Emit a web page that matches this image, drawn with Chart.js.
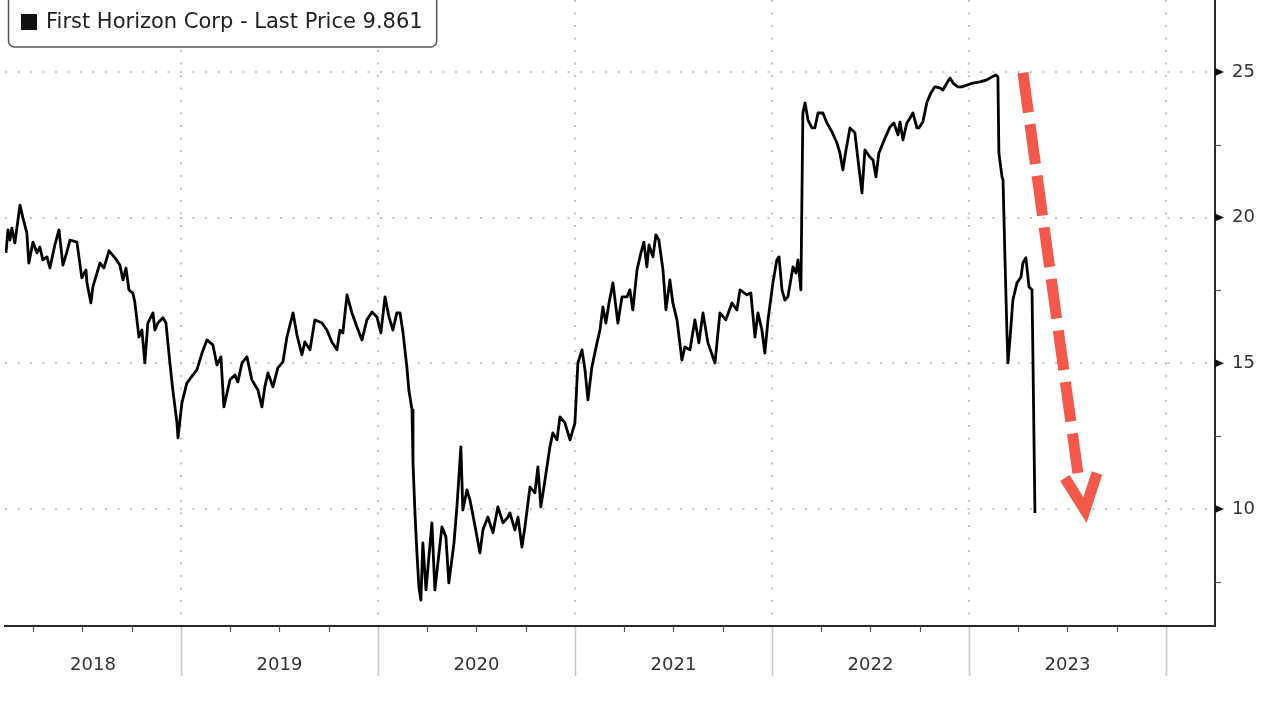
<!DOCTYPE html>
<html>
<head>
<meta charset="utf-8">
<script src="https://cdn.jsdelivr.net/npm/chart.js@4.4.1/dist/chart.umd.min.js"></script>
<style>
html,body{margin:0;padding:0;background:#fff;overflow:hidden}
#wrap{width:1280px;height:711px;position:relative}
</style>
</head>
<body>
<div id="wrap"><canvas id="c" width="1280" height="711"></canvas></div>
<script>
// ---- data (decimal year, price) ----
const seriesName = 'First Horizon Corp - Last Price';

const dates2018 = [2018.112,2018.122,2018.132,2018.142,2018.157,2018.183,2018.198,2018.218,2018.228,2018.249,2018.269,2018.284,2018.299,2018.320,2018.335,2018.360,2018.381,2018.401,2018.421,2018.437,2018.472,2018.497,2018.518,2018.523,2018.543,2018.553,2018.589,2018.609,2018.635,2018.665,2018.690,2018.706,2018.721,2018.736,2018.756,2018.766,2018.787,2018.802,2018.817,2018.832,2018.858,2018.868,2018.883,2018.909,2018.924,2018.944,2018.959,2018.980,2018.985];
const prices2018 = [18.79,19.58,19.23,19.64,19.13,20.43,19.99,19.47,18.44,19.16,18.79,18.99,18.55,18.65,18.27,19.06,19.58,18.37,18.82,19.23,19.16,17.93,18.20,17.76,17.07,17.62,18.44,18.27,18.86,18.62,18.37,17.86,18.27,17.52,17.41,17.10,15.90,16.14,15.01,16.38,16.73,16.14,16.38,16.56,16.38,15.01,14.08,12.95,12.44];

const dates2019 = [2019.005,2019.030,2019.061,2019.081,2019.107,2019.132,2019.162,2019.183,2019.203,2019.218,2019.249,2019.274,2019.289,2019.310,2019.335,2019.360,2019.391,2019.411,2019.426,2019.442,2019.467,2019.492,2019.518,2019.538,2019.569,2019.589,2019.614,2019.629,2019.655,2019.680,2019.716,2019.741,2019.766,2019.792,2019.807,2019.822,2019.843,2019.868,2019.893,2019.919,2019.944,2019.970,2019.995];
const prices2019 = [13.64,14.32,14.60,14.77,15.35,15.80,15.63,14.94,15.22,13.50,14.43,14.60,14.36,15.01,15.22,14.43,14.08,13.50,14.19,14.67,14.19,14.84,15.05,15.90,16.73,15.97,15.29,15.73,15.46,16.49,16.38,16.14,15.73,15.46,16.14,16.04,17.35,16.73,16.25,15.80,16.49,16.76,16.59];

const dates2020 = [2020.015,2020.036,2020.056,2020.076,2020.096,2020.112,2020.127,2020.147,2020.157,2020.173,2020.178,2020.188,2020.198,2020.208,2020.218,2020.228,2020.244,2020.274,2020.289,2020.325,2020.345,2020.360,2020.386,2020.401,2020.421,2020.431,2020.452,2020.467,2020.487,2020.518,2020.533,2020.558,2020.584,2020.609,2020.635,2020.660,2020.670,2020.695,2020.711,2020.731,2020.746,2020.772,2020.797,2020.812,2020.827,2020.848,2020.873,2020.888,2020.909,2020.924,2020.949,2020.975];
const prices2020 = [16.04,17.28,16.59,16.14,16.73,16.73,16.07,14.87,14.08,13.40,11.58,9.86,8.49,7.32,6.87,8.83,7.22,9.52,7.22,9.38,9.04,7.46,8.83,10.07,12.13,9.96,10.65,10.31,9.62,8.49,9.28,9.72,9.18,10.07,9.52,9.72,9.86,9.28,9.72,8.69,9.38,10.75,10.55,11.44,10.07,10.99,12.13,12.61,12.37,13.16,12.95,12.37];

const dates2021 = [2021.000,2021.015,2021.036,2021.051,2021.066,2021.086,2021.112,2021.127,2021.142,2021.157,2021.173,2021.193,2021.218,2021.239,2021.264,2021.279,2021.294,2021.315,2021.335,2021.350,2021.365,2021.376,2021.396,2021.411,2021.426,2021.447,2021.462,2021.482,2021.497,2021.518,2021.543,2021.558,2021.584,2021.609,2021.629,2021.650,2021.675,2021.711,2021.736,2021.766,2021.797,2021.822,2021.838,2021.873,2021.893,2021.914,2021.929,2021.949,2021.964,2021.980];
const prices2021 = [12.95,15.01,15.46,14.77,13.74,14.87,15.70,16.14,16.93,16.38,17.07,17.76,16.38,17.28,17.28,17.52,16.83,18.20,18.79,19.16,18.31,19.06,18.65,19.41,19.23,18.20,16.83,17.86,17.07,16.49,15.11,15.56,15.46,16.49,15.70,16.73,15.70,15.01,16.73,16.49,17.07,16.83,17.52,17.35,17.41,15.90,16.73,16.14,15.35,16.49];

const dates2022 = [2022.005,2022.025,2022.036,2022.051,2022.066,2022.081,2022.107,2022.122,2022.132,2022.147,2022.157,2022.168,2022.183,2022.203,2022.218,2022.234,2022.259,2022.279,2022.305,2022.330,2022.345,2022.360,2022.376,2022.396,2022.421,2022.437,2022.457,2022.472,2022.497,2022.513,2022.528,2022.543,2022.574,2022.599,2022.619,2022.640,2022.650,2022.665,2022.685,2022.701,2022.716,2022.736,2022.746,2022.766,2022.787,2022.807,2022.827,2022.853,2022.868,2022.888,2022.904,2022.919,2022.944,2022.964,2022.990];
const prices2022 = [17.76,18.55,18.65,17.52,17.17,17.28,18.31,18.10,18.55,17.52,23.59,23.94,23.35,23.08,23.08,23.59,23.59,23.25,22.94,22.56,22.22,21.64,22.32,23.08,22.91,21.98,20.85,22.32,22.08,21.98,21.40,22.22,22.73,23.11,23.25,22.84,23.28,22.67,23.25,23.42,23.59,23.08,23.08,23.28,23.97,24.28,24.49,24.45,24.38,24.62,24.79,24.62,24.49,24.49,24.55];

const dates2023 = [2023.020,2023.056,2023.091,2023.117,2023.137,2023.147,2023.152,2023.168,2023.173,2023.183,2023.193,2023.198,2023.208,2023.223,2023.244,2023.264,2023.274,2023.289,2023.305,2023.320,2023.325,2023.335];
const prices2023 = [24.62,24.66,24.73,24.83,24.90,24.83,22.22,21.40,21.29,18.55,16.04,15.01,15.80,17.17,17.76,17.96,18.44,18.62,17.62,17.52,15.11,9.861];

// axis labels / ticks
const yearLabels = ['2018','2019','2020','2021','2022','2023'];
const yTickValues = [10, 15, 20, 25];
const yMinorValues = [7.5, 12.5, 17.5, 22.5];
const xRange = [2018.107, 2024.249];
const yRange = [5.98, 27.47];

// annotation arrow (data units: [year, price])
const arrowStart = [2023.274, 24.97];
const arrowShaftEnd = [2023.553, 11.23];
const arrowTip = [2023.589, 9.96];
const arrowArmLeft = [2023.487, 11.06];
const arrowArmRight = [2023.650, 11.23];

// ---- build ----
const allDates = [].concat(dates2018, dates2019, dates2020, dates2021, dates2022, dates2023);
const allPrices = [].concat(prices2018, prices2019, prices2020, prices2021, prices2022, prices2023);
const points = allDates.map((d, i) => ({x: d, y: allPrices[i]}));
const lastPrice = allPrices[allPrices.length - 1];

const inRange = v => v >= xRange[0] && v <= xRange[1];
const isYear = v => Math.abs(v - Math.round(v)) < 1e-6;
const xGridValues = [];     // year boundaries
const xQuarterValues = [];  // quarterly minor ticks
const xLabelValues = [];    // label positions: centre of the visible part of each year
const xLabelMap = {};
yearLabels.forEach(lbl => {
  const y = Number(lbl);
  if (inRange(y)) xGridValues.push(y);
  [0.25, 0.5, 0.75].forEach(q => { if (inRange(y + q)) xQuarterValues.push(y + q); });
  const mid = (Math.max(y, xRange[0]) + Math.min(y + 1, xRange[1])) / 2;
  xLabelValues.push(mid);
  xLabelMap[mid.toFixed(4)] = lbl;
});
const endYear = Number(yearLabels[yearLabels.length - 1]) + 1;
if (inRange(endYear)) xGridValues.push(endYear);
const xTickValues = xGridValues.concat(xLabelValues).sort((a, b) => a - b);

const FONT = 'DejaVu Sans';
const GRID = '#c4c4c4';

const decor = {
  id: 'decor',
  afterDatasetsDraw(chart) {
    const {ctx, scales: {x: xs, y: ys}} = chart;
    const P = p => [xs.getPixelForValue(p[0]), ys.getPixelForValue(p[1])];
    const s = P(arrowStart), e = P(arrowShaftEnd), t = P(arrowTip), l = P(arrowArmLeft), r = P(arrowArmRight);
    ctx.save();
    ctx.strokeStyle = '#f4584a';
    ctx.lineWidth = 11;
    ctx.lineCap = 'butt';
    ctx.setLineDash([40, 12]);
    ctx.beginPath(); ctx.moveTo(s[0], s[1]); ctx.lineTo(e[0], e[1]); ctx.stroke();
    ctx.setLineDash([]);
    ctx.lineJoin = 'miter';
    ctx.beginPath(); ctx.moveTo(l[0], l[1]); ctx.lineTo(t[0], t[1]); ctx.lineTo(r[0], r[1]); ctx.stroke();
    ctx.restore();
  },
  afterDraw(chart) {
    const {ctx, chartArea: a, scales: {x: xs, y: ys}} = chart;
    ctx.save();
    // x axis: year separators
    ctx.strokeStyle = '#c8c8c8'; ctx.lineWidth = 1.6;
    xGridValues.forEach(v => {
      const px = Math.round(xs.getPixelForValue(v)) + 0.5;
      ctx.beginPath(); ctx.moveTo(px, a.bottom + 1); ctx.lineTo(px, a.bottom + 50); ctx.stroke();
    });
    // x axis: quarterly ticks
    ctx.strokeStyle = '#555'; ctx.lineWidth = 1.2;
    xQuarterValues.forEach(v => {
      const px = Math.round(xs.getPixelForValue(v)) + 0.5;
      ctx.beginPath(); ctx.moveTo(px, a.bottom); ctx.lineTo(px, a.bottom + 6); ctx.stroke();
    });
    // y axis: major triangles, minor ticks
    ctx.fillStyle = '#111';
    yTickValues.forEach(v => {
      const py = ys.getPixelForValue(v);
      ctx.beginPath();
      ctx.moveTo(a.right, py - 4); ctx.lineTo(a.right + 9, py); ctx.lineTo(a.right, py + 4);
      ctx.closePath(); ctx.fill();
    });
    ctx.strokeStyle = '#555'; ctx.lineWidth = 1.2;
    yMinorValues.forEach(v => {
      const py = Math.round(ys.getPixelForValue(v)) + 0.5;
      ctx.beginPath(); ctx.moveTo(a.right, py); ctx.lineTo(a.right + 6, py); ctx.stroke();
    });
    // legend box
    const label = seriesName + ' ' + lastPrice.toFixed(3);
    ctx.font = '21px "' + FONT + '"';
    const tw = ctx.measureText(label).width;
    const bx = 8.5, by = -10, bw = 46 + tw + 14 - 8.5, bh = 57;
    ctx.beginPath();
    ctx.roundRect(bx, by, bw, bh, 6);
    ctx.fillStyle = '#fff'; ctx.fill();
    ctx.strokeStyle = '#555'; ctx.lineWidth = 1.5; ctx.stroke();
    ctx.fillStyle = '#111';
    ctx.fillRect(21, 14, 16, 16);
    ctx.fillStyle = '#222';
    ctx.textBaseline = 'middle';
    ctx.textAlign = 'left';
    ctx.fillText(label, 46, 22.5);
    ctx.restore();
  }
};

new Chart(document.getElementById('c').getContext('2d'), {
  type: 'line',
  data: {
    datasets: [{
      label: seriesName,
      data: points,
      borderColor: '#000',
      borderWidth: 2.8,
      pointRadius: 0,
      tension: 0,
      fill: false,
      borderJoinStyle: 'round'
    }]
  },
  options: {
    responsive: false,
    animation: false,
    devicePixelRatio: 1,
    layout: {padding: {left: 5, top: 0, right: 0, bottom: 0}},
    plugins: {legend: {display: false}, tooltip: {enabled: false}},
    scales: {
      x: {
        type: 'linear', position: 'bottom', min: xRange[0], max: xRange[1],
        afterBuildTicks: s => { s.ticks = xTickValues.map(v => ({value: v})); },
        afterFit: s => { s.height = 85; s.paddingLeft = 0; s.paddingRight = 0; },
        grid: {
          drawTicks: false,
          color: c => (c.tick && isYear(c.tick.value)) ? GRID : 'rgba(0,0,0,0)',
          lineWidth: c => (c.tick && isYear(c.tick.value)) ? 2 : 0
        },
        border: {display: true, color: '#2a2a2a', width: 2, dash: [2, 10.5]},
        ticks: {
          autoSkip: false, maxRotation: 0, minRotation: 0, padding: 29,
          color: '#333', font: {family: FONT, size: 18},
          callback: v => xLabelMap[Number(v).toFixed(4)] || ''
        }
      },
      y: {
        type: 'linear', position: 'right', min: yRange[0], max: yRange[1],
        afterBuildTicks: s => { s.ticks = yTickValues.map(v => ({value: v})); },
        afterFit: s => { s.width = 65; s.paddingTop = 0; s.paddingBottom = 0; },
        grid: {drawTicks: false, color: GRID, lineWidth: 2},
        border: {display: true, color: '#2a2a2a', width: 2, dash: [2, 10.5]},
        ticks: {padding: 17, color: '#333', font: {family: FONT, size: 18}, callback: v => String(v)}
      }
    }
  },
  plugins: [decor]
});
</script>
</body>
</html>
